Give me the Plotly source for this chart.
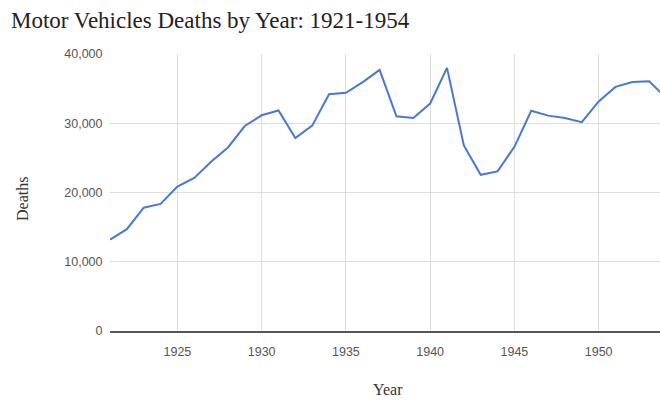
import plotly.graph_objects as go

# US motor vehicle deaths per year
years = list(range(1921, 1955))
deaths = [
    13200, 14700, 17800, 18350, 20850, 22100, 24450, 26500, 29600, 31150,
    31850, 27850, 29650, 34200, 34400, 35950, 37700, 31000, 30750, 32850,
    38000, 26800, 22550, 23050, 26600, 31800, 31100, 30750, 30150, 33150,
    35250, 35950, 36050, 33700,
]
x_ticks = [1925, 1930, 1935, 1940, 1945, 1950]
y_ticks = [0, 10000, 20000, 30000, 40000]

title_text = "Motor Vehicles Deaths by Year: 1921-1954"
x_title = "Year"
y_title = "Deaths"

serif = "Liberation Serif, Times New Roman, serif"
sans = "Liberation Sans, Arial, sans-serif"

fig = go.Figure(
    go.Scatter(
        x=years,
        y=deaths,
        mode="lines",
        line=dict(color="#4a78cc", width=2),
        hoverinfo="x+y",
    )
)

fig.update_layout(
    width=660,
    height=400,
    margin=dict(l=110, r=0, t=54, b=69),
    paper_bgcolor="white",
    plot_bgcolor="white",
    showlegend=False,
    title=dict(
        text=title_text,
        x=11 / 660,
        xanchor="left",
        y=1 - 20 / 400,
        yanchor="middle",
        font=dict(family=serif, size=23, color="#222222"),
    ),
    xaxis=dict(
        range=[1921, 1921 + 550 / 16.85],
        tickvals=x_ticks,
        showgrid=True,
        gridcolor="#dddddd",
        gridwidth=1,
        zeroline=False,
        showline=True,
        linecolor="#555555",
        linewidth=1.5,
        ticks="outside",
        ticklen=8,
        tickcolor="rgba(0,0,0,0)",
        tickfont=dict(family=sans, size=12.5, color="#555555"),
    ),
    yaxis=dict(
        range=[0, 40000],
        tickvals=y_ticks,
        tickformat=",",
        showgrid=True,
        gridcolor="#dddddd",
        gridwidth=1,
        zeroline=False,
        showline=False,
        ticks="outside",
        ticklen=4,
        tickcolor="rgba(0,0,0,0)",
        tickfont=dict(family=sans, size=12.5, color="#555555"),
    ),
    annotations=[
        dict(
            text=y_title,
            xref="paper",
            yref="paper",
            x=(22 - 110) / 550,
            y=(331 - 199) / 277,
            xanchor="center",
            yanchor="middle",
            textangle=-90,
            showarrow=False,
            font=dict(family=serif, size=16, color="#333333"),
        ),
        dict(
            text=x_title,
            xref="paper",
            yref="paper",
            x=(388 - 110) / 550,
            y=(331 - 389) / 277,
            xanchor="center",
            yanchor="middle",
            showarrow=False,
            font=dict(family=serif, size=16, color="#333333"),
        ),
    ],
)

fig.write_html("out.html")
